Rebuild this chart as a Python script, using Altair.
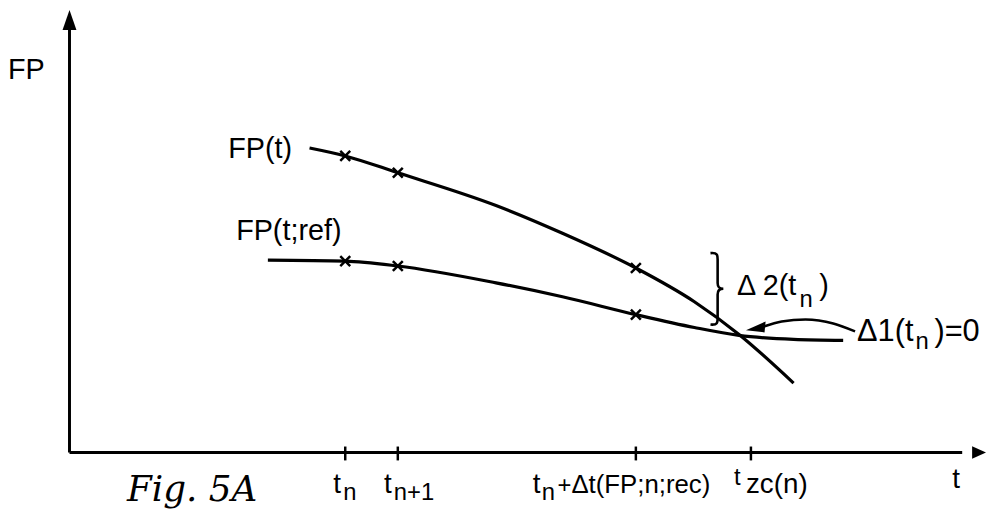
import altair as alt
import pandas as pd

# ---- data (t and FP in arbitrary units) ----
fp_t = [24.2, 27.8, 33.1, 43.0, 49.7, 57.1, 63.0, 67.5, 73.0]
fp_vals = [30.7, 29.9, 28.2, 24.9, 22.1, 18.6, 15.2, 11.9, 7.0]

ref_t = [20.0, 27.8, 33.1, 43.0, 49.7, 57.1, 63.0, 67.5, 73.0, 78.0]
ref_vals = [19.4, 19.3, 18.8, 17.1, 15.7, 13.9, 12.6, 11.8, 11.4, 11.3]

marker_t = [27.8, 33.1, 57.1]
marker_fp = [29.9, 28.2, 18.6]
marker_ref = [19.3, 18.8, 13.9]

tick_t = [27.8, 33.1, 57.1, 68.7]

# annotation pieces: text, left t, baseline fp, font size
label_text = ["FP", "FP(t)", "FP(t;ref)", "t",
              "t", "n", "t", "n+1",
              "t", "n", "+", "\u0394t(FP;n;rec)",
              "t", "zc(n)",
              "\u0394 2(t", "n", ")",
              "\u03941(t", "n", ")=0"]
label_t = [-6.2, 16.0, 16.8, 89.0,
           26.6, 27.6, 31.7, 32.7,
           46.7, 47.6, 49.2, 50.6,
           67.0, 68.2,
           67.3, 73.6, 75.6,
           79.4, 85.3, 87.2]
label_fp = [37.7, 29.7, 21.4, -3.6,
            -4.1, -4.8, -4.1, -4.8,
            -4.1, -4.8, -4.1, -4.1,
            -3.3, -4.1,
            15.9, 14.7, 15.9,
            11.2, 10.4, 11.2]
label_size = [29, 29, 29, 28,
              28, 24, 28, 24,
              28, 24, 24, 26,
              24, 28,
              29, 24, 29,
              31, 24, 31]

# brace and pointer arrow
brace_t = [65.2]
brace_fp = [16.5]
pointer_t = [79.2, 77.0, 74.2, 71.8, 70.0]
pointer_fp = [12.2, 13.0, 13.4, 13.2, 12.7]
arrowhead_t = [69.3]
arrowhead_fp = [12.6]

X_DOM = [-6.2, 92.4]
Y_DOM = [-7.3, 44.6]
FONT = "Liberation Sans, Arial, Helvetica, sans-serif"


def X(field="t"):
    return alt.X(f"{field}:Q", scale=alt.Scale(domain=X_DOM, nice=False, zero=False), axis=None)


def Y(field="fp"):
    return alt.Y(f"{field}:Q", scale=alt.Scale(domain=Y_DOM, nice=False, zero=False), axis=None)


curves = pd.concat([
    pd.DataFrame({"t": fp_t, "fp": fp_vals, "series": "FP(t)", "order": range(len(fp_t))}),
    pd.DataFrame({"t": ref_t, "fp": ref_vals, "series": "FP(t;ref)", "order": range(len(ref_t))}),
])
markers = pd.DataFrame({"t": marker_t * 2, "fp": marker_fp + marker_ref})
ticks = pd.DataFrame({"t": tick_t, "lo": [-0.8] * len(tick_t), "hi": [0.6] * len(tick_t)})
labels = pd.DataFrame({"t": label_t, "fp": label_fp, "text": label_text, "size": label_size})
axes = pd.DataFrame({"t": [0.0, 0.0], "fp": [0.0, 0.0], "t2": [0.0, 90.0], "fp2": [42.8, 0.0]})
heads = pd.DataFrame({"t": [0.0, 91.6], "fp": [43.6, 0.0], "kind": ["up", "right"]})
pointer = pd.DataFrame({"t": pointer_t, "fp": pointer_fp, "order": range(len(pointer_t))})

axis_rules = alt.Chart(axes).mark_rule(color="black", strokeWidth=3).encode(
    x=X(), y=Y(), x2="t2:Q", y2="fp2:Q")

up_head = alt.Chart(heads[heads.kind == "up"]).mark_point(
    shape="M0,-1L-0.7,1L0.7,1Z", filled=True, color="black", size=400, opacity=1).encode(x=X(), y=Y())
right_head = alt.Chart(heads[heads.kind == "right"]).mark_point(
    shape="M1,0L-0.75,-0.8L-0.75,0.8Z", filled=True, color="black", size=256, opacity=1).encode(x=X(), y=Y())

tick_rules = alt.Chart(ticks).mark_rule(color="black", strokeWidth=2.5).encode(
    x=X(), y=Y("lo"), y2="hi:Q")

lines = alt.Chart(curves).mark_line(color="black", strokeWidth=3.2, interpolate="monotone").encode(
    x=X(), y=Y(), detail="series:N", order="order:Q")

xmarks = alt.Chart(markers).mark_point(
    shape="M-1,-1L1,1M-1,1L1,-1", filled=False, color="black", strokeWidth=2.5, size=100, opacity=1
).encode(x=X(), y=Y())

brace = alt.Chart(pd.DataFrame({"t": brace_t, "fp": brace_fp})).mark_point(
    shape="M-0.16,-1C0.04,-1.02 0.04,-0.94 0.04,-0.82L0.04,-0.16C0.04,-0.05 0.08,0 0.2,0"
          "C0.08,0 0.04,0.05 0.04,0.16L0.04,0.82C0.04,0.94 0.04,1.02 -0.16,1",
    filled=False, color="black", strokeWidth=2.6, size=5184, opacity=1
).encode(x=X(), y=Y())

pointer_line = alt.Chart(pointer).mark_line(color="black", strokeWidth=2.5, interpolate="monotone").encode(
    x=X(), y=Y(), order="order:Q")

pointer_head = alt.Chart(pd.DataFrame({"t": arrowhead_t, "fp": arrowhead_fp})).mark_point(
    shape="M-1,0.25L0.8,-0.55L0.7,0.45Z", filled=True, color="black", size=484, opacity=1
).encode(x=X(), y=Y())

texts = alt.Chart(labels).mark_text(
    align="left", baseline="alphabetic", font=FONT, color="black"
).encode(x=X(), y=Y(), text="text:N", size=alt.Size("size:Q", scale=None, legend=None))

fig_label = alt.Chart(pd.DataFrame({"t": [5.8], "fp": [-4.9], "text": ["Fig. 5A"]})).mark_text(
    align="left", baseline="alphabetic", font="DejaVu Serif", fontStyle="italic", fontSize=36, color="black"
).encode(x=X(), y=Y(), text="text:N")

chart = alt.layer(
    axis_rules, up_head, right_head, tick_rules, lines, xmarks, brace,
    pointer_line, pointer_head, texts, fig_label
).properties(
    width=986, height=519, padding=0, autosize="none", background="white"
).configure_view(stroke=None)

chart.save("out.html", embed_options={"renderer": "svg", "actions": False})
